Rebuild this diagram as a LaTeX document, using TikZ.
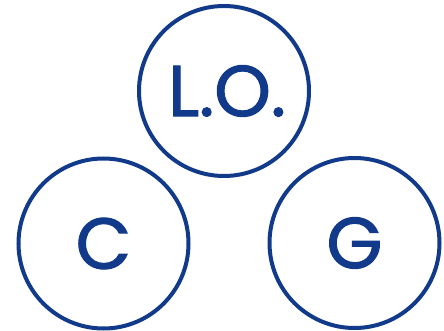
\documentclass[tikz,border=0pt]{standalone}
\usepackage{fontspec}
\setmainfont{Poppins}
\newfontfamily\logofont{Poppins}[FakeBold=1.6]
\definecolor{logoblue}{RGB}{18,58,138}
\begin{document}
\begin{tikzpicture}[x=1pt,y=-1pt,
  ring/.style={circle,draw=logoblue,line width=4pt,minimum size=170pt,inner sep=0pt,text=logoblue,font=\logofont\fontsize{72}{72}\selectfont}]
\useasboundingbox (0,0) rectangle (444,331);
\node[ring] (lo) at (224,91) {\hspace{6pt}L.O.};
\node[ring] (c) at (103.5,243.5) {C};
\node[ring] (g) at (354.5,243) {G};
\end{tikzpicture}
\end{document}
